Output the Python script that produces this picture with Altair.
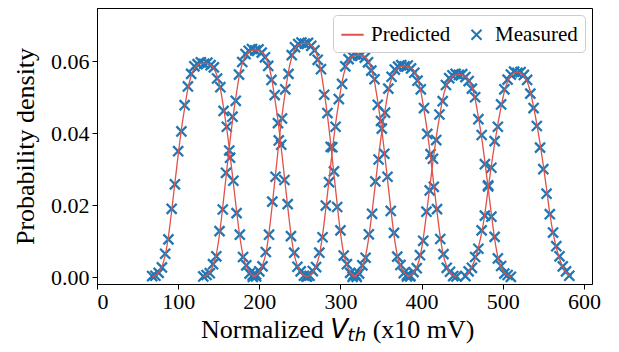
import altair as alt
import pandas as pd

# offsets of the measurement grid from each peak centre (x10 mV)
offsets = [-64, -60, -56, -52, -48, -44, -40, -36, -32, -28, -24, -20, -16, -12, -8, -4, 0,
           4, 8, 12, 16, 20, 24, 28, 32, 36, 40, 44, 48, 52, 56, 60, 64]
centers = [132, 195, 256, 322, 379, 446, 518]

pred_1 = [0.0001, 0.0005, 0.0013, 0.0030, 0.0060, 0.0113, 0.0184, 0.0262, 0.0339, 0.0411, 0.0470, 0.0524, 0.0559, 0.0580, 0.0590, 0.0594, 0.0595,
          0.0594, 0.0590, 0.0580, 0.0559, 0.0524, 0.0470, 0.0411, 0.0339, 0.0262, 0.0184, 0.0113, 0.0060, 0.0030, 0.0013, 0.0005, 0.0001]
pred_2 = [0.0001, 0.0005, 0.0014, 0.0032, 0.0063, 0.0120, 0.0196, 0.0278, 0.0360, 0.0435, 0.0498, 0.0555, 0.0593, 0.0615, 0.0626, 0.0630, 0.0631,
          0.0630, 0.0626, 0.0615, 0.0593, 0.0555, 0.0498, 0.0435, 0.0360, 0.0278, 0.0196, 0.0120, 0.0063, 0.0032, 0.0014, 0.0005, 0.0001]
pred_3 = [0.0001, 0.0005, 0.0014, 0.0033, 0.0065, 0.0124, 0.0202, 0.0286, 0.0371, 0.0449, 0.0514, 0.0572, 0.0611, 0.0634, 0.0645, 0.0649, 0.0650,
          0.0649, 0.0645, 0.0634, 0.0611, 0.0572, 0.0514, 0.0449, 0.0371, 0.0286, 0.0202, 0.0124, 0.0065, 0.0033, 0.0014, 0.0005, 0.0001]
pred_4 = [0.0001, 0.0005, 0.0014, 0.0031, 0.0062, 0.0117, 0.0191, 0.0271, 0.0352, 0.0426, 0.0487, 0.0543, 0.0580, 0.0602, 0.0612, 0.0616, 0.0617,
          0.0616, 0.0612, 0.0602, 0.0580, 0.0543, 0.0487, 0.0426, 0.0352, 0.0271, 0.0191, 0.0117, 0.0062, 0.0031, 0.0014, 0.0005, 0.0001]
pred_5 = [0.0001, 0.0005, 0.0013, 0.0029, 0.0059, 0.0112, 0.0182, 0.0258, 0.0335, 0.0405, 0.0464, 0.0517, 0.0552, 0.0572, 0.0582, 0.0586, 0.0587,
          0.0586, 0.0582, 0.0572, 0.0552, 0.0517, 0.0464, 0.0405, 0.0335, 0.0258, 0.0182, 0.0112, 0.0059, 0.0029, 0.0013, 0.0005, 0.0001]
pred_6 = [0.0001, 0.0005, 0.0012, 0.0028, 0.0056, 0.0107, 0.0175, 0.0248, 0.0321, 0.0388, 0.0445, 0.0495, 0.0529, 0.0549, 0.0558, 0.0562, 0.0563,
          0.0562, 0.0558, 0.0549, 0.0529, 0.0495, 0.0445, 0.0388, 0.0321, 0.0248, 0.0175, 0.0107, 0.0056, 0.0028, 0.0012, 0.0005, 0.0001]
pred_7 = [0.0005, 0.0013, 0.0029, 0.0051, 0.0083, 0.0123, 0.0177, 0.0245, 0.0311, 0.0371, 0.0425, 0.0473, 0.0516, 0.0544, 0.0559, 0.0567, 0.0570,
          0.0567, 0.0559, 0.0544, 0.0516, 0.0473, 0.0425, 0.0371, 0.0311, 0.0245, 0.0177, 0.0123, 0.0083, 0.0051, 0.0029, 0.0013, 0.0005]

meas_1 = [0.0003, 0.0004, 0.0012, 0.0027, 0.0065, 0.0105, 0.0190, 0.0258, 0.0350, 0.0405, 0.0478, 0.0530, 0.0565, 0.0586, 0.0592, 0.0597, 0.0593,
          0.0596, 0.0589, 0.0583, 0.0552, 0.0528, 0.0462, 0.0418, 0.0332, 0.0268, 0.0178, 0.0118, 0.0056, 0.0033, 0.0010, 0.0006, 0.0002]
meas_2 = [0.0002, 0.0006, 0.0011, 0.0036, 0.0058, 0.0128, 0.0188, 0.0290, 0.0352, 0.0446, 0.0490, 0.0563, 0.0598, 0.0620, 0.0629, 0.0634, 0.0630,
          0.0633, 0.0624, 0.0611, 0.0587, 0.0548, 0.0506, 0.0428, 0.0368, 0.0270, 0.0203, 0.0114, 0.0068, 0.0029, 0.0016, 0.0004, 0.0002]
meas_3 = [0.0001, 0.0007, 0.0016, 0.0030, 0.0070, 0.0118, 0.0210, 0.0279, 0.0380, 0.0441, 0.0522, 0.0565, 0.0617, 0.0639, 0.0648, 0.0652, 0.0649,
          0.0651, 0.0643, 0.0630, 0.0604, 0.0578, 0.0507, 0.0456, 0.0362, 0.0294, 0.0195, 0.0130, 0.0060, 0.0036, 0.0012, 0.0006, 0.0001]
meas_4 = [0.0002, 0.0004, 0.0017, 0.0028, 0.0068, 0.0111, 0.0199, 0.0264, 0.0361, 0.0418, 0.0495, 0.0537, 0.0586, 0.0606, 0.0615, 0.0619, 0.0616,
          0.0618, 0.0610, 0.0597, 0.0574, 0.0550, 0.0479, 0.0434, 0.0343, 0.0279, 0.0184, 0.0123, 0.0057, 0.0034, 0.0011, 0.0006, 0.0002]
meas_5 = [0.0001, 0.0006, 0.0010, 0.0033, 0.0054, 0.0119, 0.0176, 0.0266, 0.0327, 0.0413, 0.0457, 0.0524, 0.0557, 0.0577, 0.0585, 0.0589, 0.0586,
          0.0588, 0.0580, 0.0568, 0.0546, 0.0522, 0.0470, 0.0398, 0.0342, 0.0251, 0.0189, 0.0106, 0.0064, 0.0026, 0.0015, 0.0003, 0.0002]
meas_6 = [0.0002, 0.0004, 0.0014, 0.0025, 0.0061, 0.0101, 0.0182, 0.0241, 0.0329, 0.0381, 0.0452, 0.0489, 0.0534, 0.0553, 0.0561, 0.0565, 0.0562,
          0.0564, 0.0556, 0.0545, 0.0524, 0.0500, 0.0439, 0.0395, 0.0314, 0.0255, 0.0168, 0.0112, 0.0052, 0.0031, 0.0010, 0.0006, 0.0001]
meas_7 = [0.0003, 0.0016, 0.0026, 0.0056, 0.0079, 0.0130, 0.0171, 0.0252, 0.0304, 0.0378, 0.0418, 0.0480, 0.0522, 0.0549, 0.0563, 0.0571, 0.0568,
          0.0570, 0.0562, 0.0548, 0.0510, 0.0470, 0.0420, 0.0360, 0.0300, 0.0232, 0.0175, 0.0124, 0.0086, 0.0058, 0.0030, 0.0016, 0.0004]

preds = [pred_1, pred_2, pred_3, pred_4, pred_5, pred_6, pred_7]
meass = [meas_1, meas_2, meas_3, meas_4, meas_5, meas_6, meas_7]

x_ticks = [0, 100, 200, 300, 400, 500, 600]
y_ticks = [0.0, 0.02, 0.04, 0.06]

rows_p, rows_m = [], []
for k, (c, p, m) in enumerate(zip(centers, preds, meass)):
    for o, yp, ym in zip(offsets, p, m):
        rows_p.append({"peak": k, "x": c + o, "y": yp, "type": "Predicted"})
        rows_m.append({"peak": k, "x": c + o, "y": ym, "type": "Measured"})
df_p = pd.DataFrame(rows_p)
df_m = pd.DataFrame(rows_m)

RED = "#e0514b"
BLUE = "#1f77b4"
SERIF = "Liberation Serif"
XPATH = "M-0.45,-0.45L0.45,0.45M0.45,-0.45L-0.45,0.45"

W, H = 495, 276

xs = alt.Scale(domain=[0, 610], nice=False, zero=False)
ys = alt.Scale(domain=[-0.0019, 0.0748], nice=False, zero=False)

x_enc = alt.X("x:Q", scale=xs, axis=alt.Axis(values=x_ticks, title=None, format="d",
                                              labelFont=SERIF, labelFontSize=22, labelPadding=2))
y_enc = alt.Y("y:Q", scale=ys, axis=alt.Axis(values=y_ticks, format=".2f", title="Probability density",
                                              labelFont=SERIF, labelFontSize=22,
                                              titleFont=SERIF, titleFontSize=26, titlePadding=12))

legend = alt.Legend(title=None, orient="none", legendX=236, legendY=7, direction="horizontal",
                    labelFont=SERIF, labelFontSize=21, labelColor="black", symbolSize=500,
                    symbolStrokeWidth=2, fillColor="white", strokeColor="#cccccc",
                    cornerRadius=4, padding=7, columnPadding=13, labelOffset=6, labelLimit=0)

color_scale = alt.Scale(domain=["Predicted", "Measured"], range=[RED, BLUE])
shape_scale = alt.Scale(domain=["Predicted", "Measured"], range=["stroke", XPATH])

points = alt.Chart(df_m).mark_point(filled=False, size=500, strokeWidth=2.3, opacity=1).encode(
    x=x_enc, y=y_enc,
    color=alt.Color("type:N", scale=color_scale, legend=legend),
    shape=alt.Shape("type:N", scale=shape_scale, legend=legend),
)

lines = alt.Chart(df_p).mark_line(strokeWidth=1.3, interpolate="monotone").encode(
    x=x_enc, y=y_enc, detail="peak:N",
    color=alt.Color("type:N", scale=color_scale, legend=legend),
)

TY = 330
def txt(s, x, size=26, font=SERIF, style="normal", dy=0):
    return alt.Chart(pd.DataFrame({"t": [s]})).mark_text(
        align="left", baseline="alphabetic", font=font, fontSize=size, fontStyle=style,
        color="black", dy=dy
    ).encode(x=alt.value(x), y=alt.value(TY), text="t:N")

title_parts = [
    txt("Normalized", 104),
    txt("V", 233.2, size=26, font="DejaVu Sans", style="italic"),
    txt("th", 250.5, size=18.2, font="DejaVu Sans", style="italic", dy=3),
    txt("(x10 mV)", 275.7),
]

chart = alt.layer(points, lines, *title_parts).properties(
    width=W, height=H,
    autosize=alt.AutoSizeParams(type="none"),
    padding={"left": 89, "top": 0, "right": 19, "bottom": 60},
).configure_view(stroke="black", strokeWidth=1).configure_axis(
    grid=False, domainColor="black", tickColor="black", labelColor="black", titleColor="black",
    labelFont=SERIF, titleFont=SERIF, labelFontSize=22, titleFontSize=26, titleFontWeight="normal",
    tickSize=5, labelPadding=3, domainWidth=1, tickWidth=1
).configure_legend(symbolStrokeWidth=2)

chart.save("out.html", embed_options={"renderer": "svg", "actions": False})
